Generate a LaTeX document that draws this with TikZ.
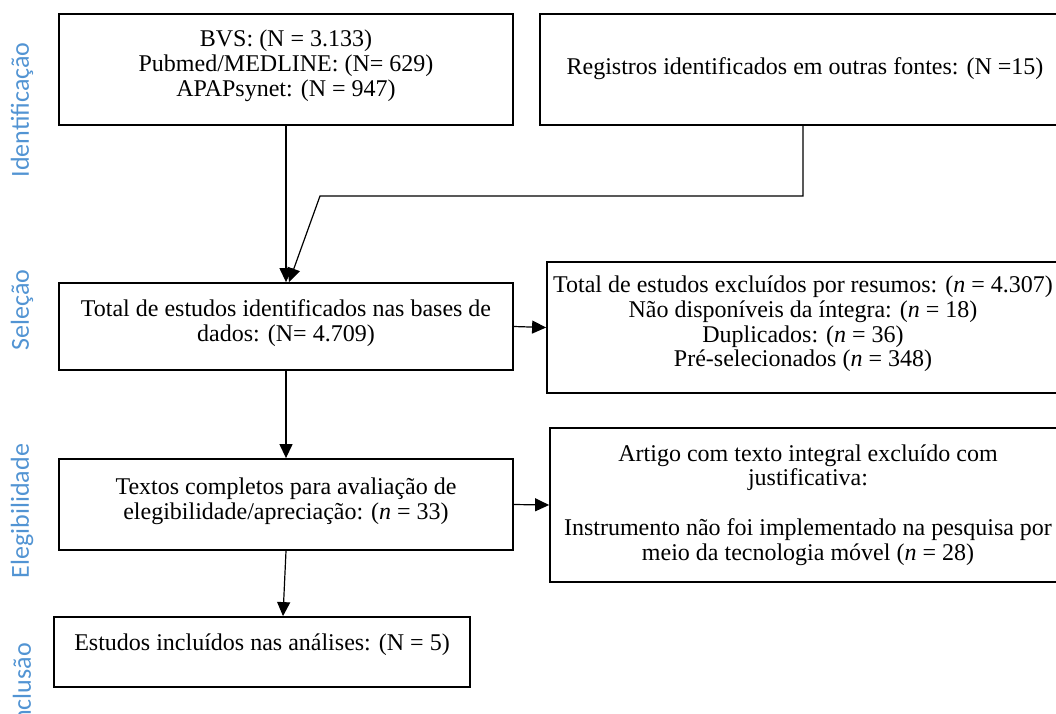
\documentclass[tikz,border=0pt]{standalone}
\usepackage{fontspec}
\setmainfont{Liberation Serif}
\newfontfamily\sidefont{Carlito}
\usetikzlibrary{arrows.meta}
\definecolor{sideblue}{HTML}{5294D3}
\begin{document}
\begin{tikzpicture}[x=1pt,y=-1pt,
  box/.style={draw, line width=1.8pt, inner sep=0pt},
  txt/.style={align=center, font=\fontsize{24}{24.8}\selectfont, inner sep=0pt},
  conn/.style={line width=1.2pt},
  arr/.style={conn, -{Triangle[length=14pt,width=13pt]}},
  side/.style={rotate=90, font=\sidefont\fontsize{26}{28}\selectfont, text=sideblue, inner sep=0pt}]
\useasboundingbox (0,0) rectangle (1056,713);

% boxes
\node[box, minimum width=454pt, minimum height=111pt] (b1) at (286,69.5) {};
\node[box, minimum width=530pt, minimum height=111pt] (b2) at (805,69.5) {};
\node[box, minimum width=454pt, minimum height=87pt] (b3) at (286,326.5) {};
\node[box, minimum width=512pt, minimum height=131pt] (b4) at (803,327.5) {};
\node[box, minimum width=454pt, minimum height=91pt] (b5) at (286,504.5) {};
\node[box, minimum width=516pt, minimum height=154pt] (b6) at (808,505) {};
\node[box, minimum width=416pt, minimum height=70pt] (b7) at (262,652) {};

% texts
\node[txt] (t1) at (286,66) {BVS: (N = 3.133)\\Pubmed/MEDLINE: (N= 629)\\APAPsynet: (N = 947)};
\node[txt] (t2) at (805,69) {Registros identificados em outras fontes: (N =15)};
\node[txt] (t3) at (286,323) {Total de estudos identificados nas bases de\\dados: (N= 4.709)};
\node[txt] (t4) at (803,324) {Total de estudos excluídos por resumos: (\textit{n} = 4.307)\\Não disponíveis da íntegra: (\textit{n} = 18)\\Duplicados: (\textit{n} = 36)\\Pré-selecionados (\textit{n} = 348)};
\node[txt] (t5) at (286,501) {Textos completos para avaliação de\\elegibilidade/apreciação: (\textit{n} = 33)};
\node[txt] (t6) at (808,505) {Artigo com texto integral excluído com\\justificativa:\\[24.8pt]Instrumento não foi implementado na pesquisa por\\meio da tecnologia móvel (\textit{n} = 28)};
\node[txt] (t7) at (262,645) {Estudos incluídos nas análises: (N = 5)};

% side labels
\node[side] (s1) at (22,110) {Identificação};
\node[side] (s2) at (22,310) {Seleção};
\node[side] (s3) at (22,511) {Elegibilidade};
\node[side, anchor=east] (s4) at (22,643) {Inclusão};

% connectors
\coordinate (k1) at (803,196);
\coordinate (k2) at (320,196);
\draw[arr] (b1.south) -- (b3.north);
\draw[arr] ([xshift=-2pt]b2.south) -- (k1) -- (k2) -- ([xshift=3pt]b3.north);
\draw[arr] (b3.east) -- (b4.west);
\draw[arr] (b3.south) -- (b5.north);
\draw[arr] (b5.east) -- (b6.west);
\draw[arr] (b5.south) -- ([xshift=21pt]b7.north);
\end{tikzpicture}
\end{document}
